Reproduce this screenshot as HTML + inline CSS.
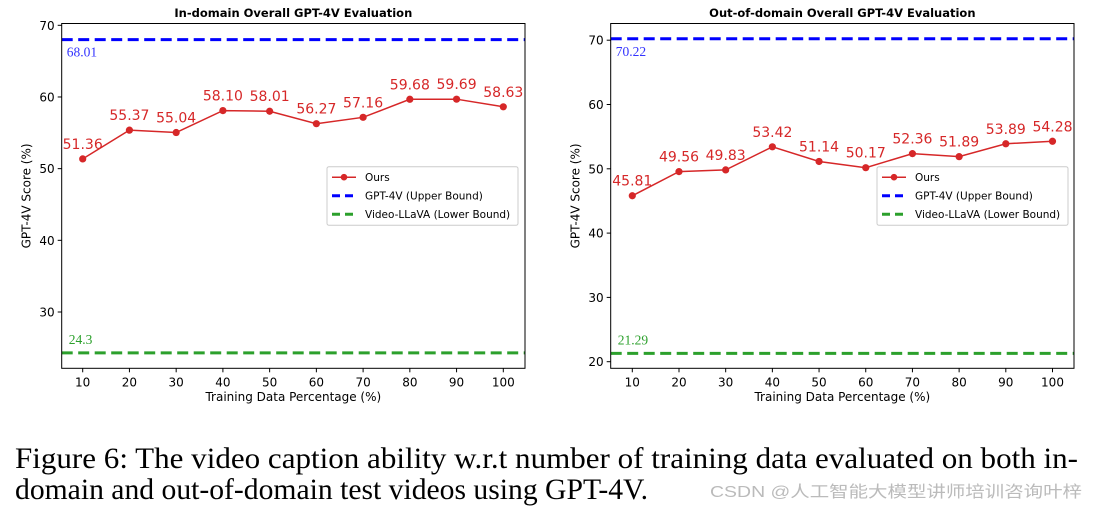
<!DOCTYPE html>
<html><head><meta charset="utf-8"><style>
html,body{margin:0;padding:0;background:#fff;}
svg{display:block;font-family:"DejaVu Sans","Liberation Sans",sans-serif;}
</style></head><body>
<svg id="fig" width="1097" height="510" viewBox="0 0 1097 510" xmlns="http://www.w3.org/2000/svg">
<text x="15" y="468" font-family="Liberation Serif, serif" font-size="30" textLength="1063" lengthAdjust="spacingAndGlyphs" fill="#000">Figure 6: The video caption ability w.r.t number of training data evaluated on both in-</text>
<text x="15" y="499" font-family="Liberation Serif, serif" font-size="30" textLength="633" lengthAdjust="spacingAndGlyphs" fill="#000">domain and out-of-domain test videos using GPT-4V.</text>
<text x="710" y="497" font-family="Liberation Sans, Noto Sans CJK SC, sans-serif" font-size="16" textLength="372" lengthAdjust="spacingAndGlyphs" fill="#bbb">CSDN @人工智能大模型讲师培训咨询叶梓</text>
</svg>
<script>
const categories = [10,20,30,40,50,60,70,80,90,100];
const inDomainValues = [51.36,55.37,55.04,58.10,58.01,56.27,57.16,59.68,59.69,58.63];
const inDomainLabels = ["51.36","55.37","55.04","58.10","58.01","56.27","57.16","59.68","59.69","58.63"];
const inDomainUpper = 68.01;
const inDomainLower = 24.3;
const inDomainTicks = [30,40,50,60,70];
const outDomainValues = [45.81,49.56,49.83,53.42,51.14,50.17,52.36,51.89,53.89,54.28];
const outDomainLabels = ["45.81","49.56","49.83","53.42","51.14","50.17","52.36","51.89","53.89","54.28"];
const outDomainUpper = 70.22;
const outDomainLower = 21.29;
const outDomainTicks = [20,30,40,50,60,70];

const NS = "http://www.w3.org/2000/svg";
const svg = document.getElementById('fig');
function mk(tag, attrs, parent, text){
  const e = document.createElementNS(NS, tag);
  for (const k in attrs) e.setAttribute(k, attrs[k]);
  if (text !== undefined) e.textContent = text;
  (parent||svg).appendChild(e);
  return e;
}

function chart(cfg){
  const g = mk('g', {});
  
  
  const L=cfg.left, R=cfg.right, T=23.5, B=368.3;
  const xs = v => cfg.x10 + (v-10)*(cfg.x100-cfg.x10)/90;
  const ys = v => cfg.yA + (v-cfg.vA)*(cfg.yB-cfg.yA)/(cfg.vB-cfg.vA);
  const t = mk('text', {x:(L+R)/2, y:17, 'text-anchor':'middle', 'font-size':11.5, 'font-weight':'bold'}, g, cfg.title);
  
  
  const up = mk('line', {x1:L, x2:R, y1:ys(cfg.upper), y2:ys(cfg.upper), stroke:'#0000ff', 'stroke-width':3, 'stroke-dasharray':'11,5.5'}, g);
  
  
  const lo = mk('line', {x1:L, x2:R, y1:ys(cfg.lower), y2:ys(cfg.lower), stroke:'#2ca02c', 'stroke-width':3, 'stroke-dasharray':'11,5.5'}, g);
  
  
  const ul = mk('text', {x:L+5, y:ys(cfg.upper)+17, 'font-family':'Liberation Serif, serif', 'font-size':13.5, fill:'#3333ff'}, g, String(cfg.upper));
  
  
  const ll = mk('text', {x:L+7, y:ys(cfg.lower)-9, 'font-family':'Liberation Serif, serif', 'font-size':13.5, fill:'#2ca02c'}, g, String(cfg.lower));
  
  
  const pts = cfg.values.map((v,i)=>xs(categories[i])+','+ys(v)).join(' ');
  const pl = mk('polyline', {points:pts, fill:'none', stroke:'#d62728', 'stroke-width':1.5}, g);
  
  
  cfg.values.forEach((v,i)=>{
    const c = mk('circle', {cx:xs(categories[i]), cy:ys(v), r:3.6, fill:'#d62728'}, g);
    
    
    const lb = mk('text', {x:xs(categories[i]), y:ys(v)-10, 'text-anchor':'middle', 'font-size':14, fill:'#d62728'}, g, cfg.labels[i]);
    
    
  });
  const box = mk('rect', {x:L, y:T, width:R-L, height:B-T, fill:'none', stroke:'#000', 'stroke-width':1}, g);
  
  
  cfg.ticks.forEach(v=>{
    mk('line', {x1:L-4, x2:L, y1:ys(v), y2:ys(v), stroke:'#000'}, g);
    const tl = mk('text', {x:L-7, y:ys(v)+4.5, 'text-anchor':'end', 'font-size':12}, g, String(v));
    
    
  });
  categories.forEach(c=>{
    mk('line', {x1:xs(c), x2:xs(c), y1:B, y2:B+4, stroke:'#000'}, g);
    const tl = mk('text', {x:xs(c), y:B+18, 'text-anchor':'middle', 'font-size':12}, g, String(c));
    
    
  });
  const xt = mk('text', {x:(L+R)/2, y:401, 'text-anchor':'middle', 'font-size':12}, g, 'Training Data Percentage (%)');
  
  
  const yx = L-31, yy = (T+B)/2;
  const yt = mk('text', {x:yx, y:yy, 'text-anchor':'middle', 'font-size':12, transform:`rotate(-90 ${yx} ${yy})`}, g, 'GPT-4V Score (%)');
  
  
  const lx = cfg.legX, lyTop = 166.7, lw = cfg.legW, lh = 58.6;
  const lg = mk('g', {}, g);
  
  
  mk('rect', {x:lx, y:lyTop, width:lw, height:lh, rx:2, fill:'#fff', 'fill-opacity':0.85, stroke:'#ccc'}, lg);
  const rows = [['Ours','#d62728',false],['GPT-4V (Upper Bound)','#0000ff',true],['Video-LLaVA (Lower Bound)','#2ca02c',true]];
  rows.forEach((r,i)=>{
    const y = lyTop + 10.5 + i*18.5;
    const e = mk('g', {}, lg);
    
    
    if (r[2]) mk('line', {x1:lx+5, x2:lx+29, y1:y, y2:y, stroke:r[1], 'stroke-width':3, 'stroke-dasharray':'8,5'}, e);
    else { mk('line', {x1:lx+5, x2:lx+29, y1:y, y2:y, stroke:r[1], 'stroke-width':1.5}, e); mk('circle', {cx:lx+17, cy:y, r:3.3, fill:r[1]}, e); }
    mk('text', {x:lx+38, y:y+4, 'font-size':10.5}, e, r[0]);
  });
}

chart({name:'in-domain-chart', title:'In-domain Overall GPT-4V Evaluation', left:61.7, right:525,
  x10:82.7, x100:503.3, yA:25.3, vA:70, yB:312, vB:30,
  values:inDomainValues, labels:inDomainLabels, upper:inDomainUpper, lower:inDomainLower, ticks:inDomainTicks,
  legX:327, legW:191});
chart({name:'out-of-domain-chart', title:'Out-of-domain Overall GPT-4V Evaluation', left:610.7, right:1074,
  x10:632.3, x100:1052.5, yA:40.2, vA:70, yB:361.7, vB:20,
  values:outDomainValues, labels:outDomainLabels, upper:outDomainUpper, lower:outDomainLower, ticks:outDomainTicks,
  legX:877, legW:191});
</script>
</body></html>
